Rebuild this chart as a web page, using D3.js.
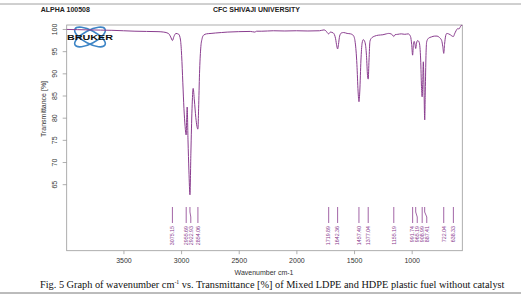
<!DOCTYPE html>
<html>
<head>
<meta charset="utf-8">
<script src="https://cdn.jsdelivr.net/npm/d3@7"></script>
<style>
  body { margin: 0; background: #fff; }
  svg { display: block; font-family: "Liberation Sans", Arial, sans-serif; }
</style>
</head>
<body>
<div id="chart"></div>
<script>
// spectrum: wavenumber (cm-1) and transmittance (%)
var wavenumbers = [3992, 3900, 3800, 3700, 3600, 3500, 3400, 3300, 3200, 3150, 3110, 3090, 3075, 3062, 3045, 3020,
  3005, 2995, 2985, 2975, 2965, 2956, 2951, 2947, 2940, 2932, 2923, 2915, 2905, 2895, 2885, 2872, 2862, 2854,
  2848, 2840, 2830, 2818, 2805, 2780, 2740, 2700, 2650, 2600, 2500, 2400, 2360, 2345, 2300, 2200, 2100, 2000,
  1900, 1800, 1760, 1745, 1720, 1705, 1680, 1660, 1650, 1642, 1635, 1625, 1610, 1590, 1560, 1530, 1505, 1490,
  1475, 1465, 1457, 1450, 1440, 1430, 1420, 1405, 1392, 1383, 1377, 1370, 1362, 1350, 1320, 1290, 1250, 1220,
  1200, 1180, 1165, 1155, 1145, 1120, 1090, 1060, 1030, 1010, 1000, 992, 985, 978, 972, 965, 958, 948, 935,
  922, 915, 909, 904, 899, 894, 887, 882, 876, 870, 855, 830, 800, 780, 760, 740, 730, 722, 715, 705, 695, 680,
  665, 650, 638, 628, 615, 600, 590, 580, 570, 562];
var transmittance = [99.9, 99.85, 99.8, 99.75, 99.7, 99.6, 99.5, 99.45, 99.4, 99.3, 99.0, 98.2, 97.4, 98.3, 99.0, 98.8,
  97.5, 94, 88, 82, 78, 76.1, 80, 82.4, 75, 68, 62.6, 72, 82, 86.6, 84, 80, 78, 77.4,
  82, 90, 95.5, 97.8, 98.6, 98.9, 99.0, 99.1, 99.2, 99.3, 99.4, 99.45, 99.3, 99.5, 99.5, 99.6, 99.55, 99.6,
  99.55, 99.6, 99.8, 99.6, 98.9, 99.3, 99.1, 97.8, 96.2, 95.5, 96.5, 98.4, 99.1, 99.2, 99.0, 98.9, 98.5, 97.0,
  92.0, 86.0, 83.6, 86, 93, 96.8, 97.6, 97.0, 94, 89.5, 88.7, 93, 97.2, 97.9, 98.4, 98.6, 98.7, 98.9,
  99.0, 98.9, 98.6, 98.3, 98.7, 98.8, 98.9, 98.8, 98.9, 98.3, 96.5, 94.1, 96.5, 97.2, 96.6, 95.6, 96.8, 97.4, 97.0,
  93, 87, 84.7, 88, 92.6, 88, 79.5, 86, 94, 97.1, 97.9, 98.2, 98.4, 98.4, 98.1, 97.4, 96, 94.5, 96.5, 98.5, 99.0, 98.9,
  98.7, 98.4, 98.3, 98.9, 99.6, 100.1, 100.0, 100.4, 100.8, 100.8];

var peakLabels = [3075.15, 2955.69, 2922.93, 2854.06, 1719.89, 1642.36, 1457.40, 1377.04, 1155.19,
  991.74, 965.19, 908.99, 887.41, 722.04, 638.33];
var xTicks = [3500, 3000, 2500, 2000, 1500, 1000];
var yTicks = [65, 70, 75, 80, 85, 90, 95, 100];

var W = 521, H = 296;
var purple = "#8a3d8f";

var svg = d3.select("#chart").append("svg").attr("width", W).attr("height", H);

var x = d3.scaleLinear().domain([3992, 561]).range([66.7, 462.3]);
var y = d3.scaleLinear().domain([50, 100.9]).range([250.7, 25]);

// page rules + header
svg.append("line").attr("x1", 0).attr("x2", W).attr("y1", 4).attr("y2", 4)
  .attr("stroke", "#888").attr("stroke-width", 0.8);
svg.append("line").attr("x1", 0).attr("x2", W).attr("y1", 293).attr("y2", 293)
  .attr("stroke", "#555").attr("stroke-width", 0.8);
svg.append("text").attr("x", 40.7).attr("y", 12).attr("font-size", 7).attr("font-weight", "bold")
  .attr("fill", "#222").text("ALPHA 100508");
svg.append("text").attr("x", 213).attr("y", 12).attr("font-size", 7).attr("font-weight", "bold")
  .attr("fill", "#222").text("CFC SHIVAJI UNIVERSITY");

// frame
svg.append("rect").attr("x", x.range()[0]).attr("y", 25)
  .attr("width", x.range()[1] - x.range()[0]).attr("height", 250.7 - 25)
  .attr("fill", "none").attr("stroke", "#9a9a9a").attr("stroke-width", 0.8);

// axes
var xAxis = svg.append("g").attr("transform", "translate(0,250.7)")
  .call(d3.axisBottom(x).tickValues(xTicks).tickSize(3.5).tickPadding(4).tickFormat(d3.format("d")));
var yAxis = svg.append("g").attr("transform", "translate(66.7,0)")
  .call(d3.axisLeft(y).tickValues(yTicks).tickSize(4).tickFormat(d3.format("d")));
[xAxis, yAxis].forEach(function (g) {
  g.select(".domain").remove();
  g.selectAll(".tick line").attr("stroke", "#9a9a9a").attr("stroke-width", 0.8);
  g.selectAll(".tick text").attr("fill", "#333").attr("font-size", 7)
    .attr("font-family", "Liberation Sans, Arial, sans-serif");
});
yAxis.selectAll(".tick text").attr("x", null).attr("dy", null)
  .attr("text-anchor", "middle")
  .attr("transform", "translate(-11.5,0) rotate(-90)")
  .attr("dominant-baseline", "middle");

svg.append("text").attr("x", 264).attr("y", 274.5).attr("text-anchor", "middle")
  .attr("font-size", 7).attr("fill", "#333").text("Wavenumber cm-1");
svg.append("text").attr("transform", "translate(45.5,109) rotate(-90)").attr("text-anchor", "middle")
  .attr("font-size", 7).attr("fill", "#333").text("Transmittance [%]");

// Bruker logo
var logo = svg.append("g").attr("transform", "translate(90,37)");
[-28, 28].forEach(function (a) {
  logo.append("ellipse").attr("rx", 17).attr("ry", 6.5).attr("transform", "rotate(" + a + ")")
    .attr("fill", "none").attr("stroke", "#3d85c6").attr("stroke-width", 1.6);
});
logo.append("text").attr("x", 0).attr("y", 2.8).attr("text-anchor", "middle")
  .attr("font-size", 8).attr("font-weight", "bold").attr("fill", "#111")
  .attr("textLength", 46).attr("lengthAdjust", "spacingAndGlyphs").text("BRUKER");

// spectrum
var line = d3.line()
  .x(function (d) { return x(d[0]); })
  .y(function (d) { return y(d[1]); })
  .curve(d3.curveMonotoneX);
svg.append("path")
  .datum(d3.zip(wavenumbers, transmittance))
  .attr("d", line)
  .attr("fill", "none").attr("stroke", purple).attr("stroke-width", 1);

// peak labels, pushed apart when they crowd
var minGap = 4.6, pos = [];
peakLabels.forEach(function (p, i) {
  var px = x(p);
  if (i > 0 && px - pos[i - 1] < minGap) px = pos[i - 1] + minGap;
  pos.push(px);
});
var pk = svg.append("g");
peakLabels.forEach(function (p, i) {
  var px = x(p), lx = pos[i];
  pk.append("path")
    .attr("d", "M" + px + ",207 L" + px + ",212 L" + lx + ",217 L" + lx + ",223")
    .attr("fill", "none").attr("stroke", purple).attr("stroke-width", 0.8);
  pk.append("text")
    .attr("transform", "translate(" + (lx + 1.8) + ",226) rotate(-90)")
    .attr("text-anchor", "end").attr("font-size", 5.3).attr("fill", purple)
    .text(d3.format(".2f")(p));
});

// caption
var cap = svg.append("text").attr("x", 40).attr("y", 287.5)
  .attr("font-family", "Liberation Serif, Times New Roman, serif").attr("font-size", 10.3).attr("fill", "#111");
cap.append("tspan").text("Fig. 5 Graph of wavenumber cm");
cap.append("tspan").attr("font-size", 5.8).attr("dy", -3.8).text("-1");
cap.append("tspan").attr("dy", 3.8).text(" vs. Transmittance [%] of Mixed LDPE and HDPE plastic fuel without catalyst");
</script>
</body>
</html>
